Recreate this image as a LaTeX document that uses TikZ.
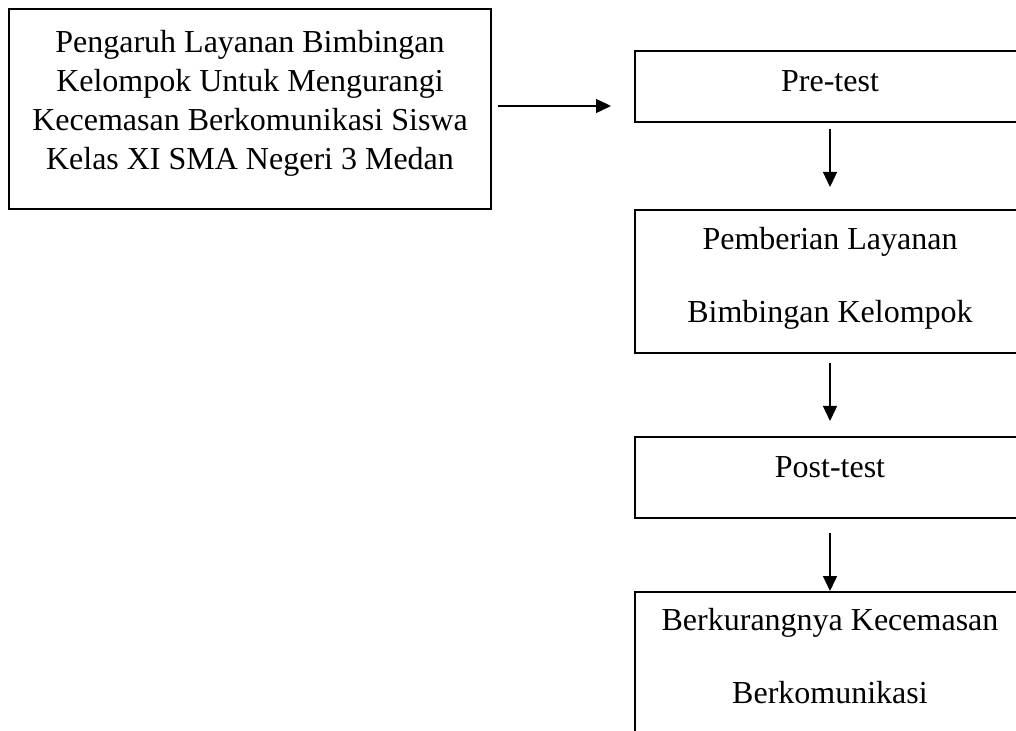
\documentclass[tikz,border=0pt]{standalone}
\usepackage{fontspec}
\setmainfont{Liberation Serif}
\usetikzlibrary{arrows.meta}
\usetikzlibrary{positioning}

\begin{document}
\begin{tikzpicture}[
    x=0.5pt, y=-0.5pt,
    box/.style={rectangle, draw, line width=1pt, minimum width=195pt, inner sep=0pt},
    txt/.style={align=center, anchor=base, inner sep=0pt, font=\fontsize{16}{19.5}\selectfont},
    wide/.style={txt, font=\fontsize{16}{36.5}\selectfont},
    arr/.style={-{Triangle[length=7.5pt,width=7pt]}, line width=0.7pt}
  ]
  \useasboundingbox (0,0) rectangle (1016,731);

  % Boxes
  \node[box, minimum width=241pt, minimum height=100pt] (judul) at (250,109) {};
  \node[box, minimum height=35.5pt] (pre) at (830,86.5) {};
  \node[box, minimum height=71.5pt] (layanan) at (830,281.5) {};
  \node[box, minimum height=40.5pt] (post) at (830,477.5) {};
  \node[box, minimum height=71.5pt] (hasil) at (830,663.5) {};

  % Texts (last baseline)
  \node[txt] (tjudul) at (250,170) {Pengaruh Layanan Bimbingan\\Kelompok Untuk Mengurangi\\Kecemasan Berkomunikasi Siswa\\Kelas XI SMA Negeri 3 Medan};
  \node[txt] (tpre) at (830,92) {Pre-test};
  \node[wide] (tlayanan) at (830,323) {Pemberian Layanan\\Bimbingan Kelompok};
  \node[txt] (tpost) at (830,477) {Post-test};
  \node[wide] (thasil) at (830,703) {Berkurangnya Kecemasan\\Berkomunikasi};

  % Arrows
  \draw[arr] ([xshift=3pt,yshift=1.5pt]judul.east) -- ([xshift=-11.5pt,yshift=-9.75pt]pre.west);
  \draw[arr] ([yshift=-3pt]pre.south) -- ([yshift=11pt]layanan.north);
  \draw[arr] ([yshift=-4.5pt]layanan.south) -- ([yshift=7.5pt]post.north);
  \draw[arr] ([yshift=-7pt]post.south) -- (hasil.north);

\end{tikzpicture}
\end{document}
